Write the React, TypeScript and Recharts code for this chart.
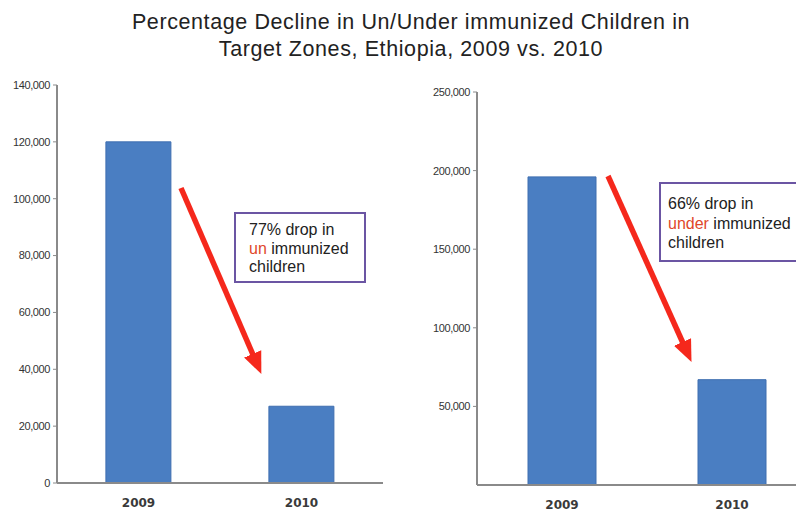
import React from 'react';
import { BarChart, Bar, XAxis, YAxis } from 'recharts';

const years = ['2009', '2010'];
const unImmunized = [120000, 27000];
const underImmunized = [196000, 67000];
const leftTicks = [0, 20000, 40000, 60000, 80000, 100000, 120000, 140000];
const rightTicks = [50000, 100000, 150000, 200000, 250000];

const titleLines = [
  'Percentage Decline in Un/Under immunized Children in',
  'Target Zones, Ethiopia, 2009 vs. 2010',
];

const leftData = years.map((y, i) => ({ year: y, value: unImmunized[i] }));
const rightData = years.map((y, i) => ({ year: y, value: underImmunized[i] }));

const fmt = (v: number) => v.toLocaleString('en-US');

const BAR = '#4a7ec2';
const AXIS = '#8a8a8a';
const yTick = { fontFamily: 'Liberation Sans, Arial, sans-serif', fontSize: 11, fill: '#333', letterSpacing: -0.4 };
const xTick = { fontFamily: 'DejaVu Sans, sans-serif', fontSize: 12, fontWeight: 'bold', fill: '#3a3a3a' };

export default function App() {
  return (
    <div style={{ position: 'fixed', left: 0, top: 0, width: 796, height: 512, overflow: 'hidden', background: '#fff' }}>
      <div style={{ position: 'absolute', left: 0, top: 9, width: 822, textAlign: 'center', fontFamily: 'Liberation Sans, Arial, sans-serif', fontSize: 21.5, letterSpacing: 0.6, lineHeight: '27px', color: '#222' }}>
        {titleLines.map((t) => (<div key={t}>{t}</div>))}
      </div>

      <div style={{ position: 'absolute', left: 0, top: 0 }}>
        <BarChart width={400} height={512} data={leftData} margin={{ top: 85, right: 17, left: 0, bottom: 0 }} barCategoryGap="30%">
          <XAxis dataKey="year" height={29} axisLine={{ stroke: AXIS, strokeWidth: 2 }} tickLine={false} tick={xTick} tickMargin={9} />
          <YAxis width={57} domain={[0, 140000]} ticks={leftTicks} tickFormatter={fmt} axisLine={{ stroke: AXIS, strokeWidth: 2 }} tickLine={{ stroke: AXIS }} tickSize={4} tickMargin={3} tick={yTick} interval={0} />
          <Bar dataKey="value" fill={BAR} stroke="#3f6fb0" isAnimationActive={false} />
        </BarChart>
      </div>

      <div style={{ position: 'absolute', left: 400, top: 0 }}>
        <BarChart width={420} height={512} data={rightData} margin={{ top: 92, right: 3, left: 0, bottom: 0 }} barCategoryGap="30%">
          <XAxis dataKey="year" height={27} axisLine={{ stroke: AXIS, strokeWidth: 2 }} tickLine={false} tick={xTick} tickMargin={9} />
          <YAxis width={77} domain={[0, 250000]} ticks={rightTicks} tickFormatter={fmt} axisLine={{ stroke: AXIS, strokeWidth: 2 }} tickLine={{ stroke: AXIS }} tickSize={4} tickMargin={3} tick={yTick} interval={0} />
          <Bar dataKey="value" fill={BAR} stroke="#3f6fb0" isAnimationActive={false} />
        </BarChart>
      </div>

      <svg width={796} height={512} style={{ position: 'absolute', left: 0, top: 0, pointerEvents: 'none' }}>
        <defs>
          <marker id="ah" markerWidth="4" markerHeight="4" refX="2" refY="2" orient="auto" markerUnits="strokeWidth">
            <path d="M0,0.3 L4,2 L0,3.7 Z" fill="#f5281c" />
          </marker>
        </defs>
        <line x1={181} y1={188} x2={257} y2={364} stroke="#f5281c" strokeWidth={5.5} markerEnd="url(#ah)" />
        <line x1={608} y1={176} x2={687} y2={352} stroke="#f5281c" strokeWidth={5.5} markerEnd="url(#ah)" />
      </svg>

      <div style={{ position: 'absolute', left: 234, top: 212, width: 128, height: 67, border: '2px solid #6b55a3', background: '#fff', fontFamily: 'Liberation Sans, Arial, sans-serif', fontSize: 16, lineHeight: '18.5px', color: '#222' }}>
        <div style={{ paddingLeft: 13, paddingTop: 7 }}>
          <div>77% drop in</div>
          <div><span style={{ color: '#e0472a' }}>un</span> immunized</div>
          <div>children</div>
        </div>
      </div>

      <div style={{ position: 'absolute', left: 659, top: 182, width: 160, height: 76, border: '2px solid #6b55a3', background: '#fff', fontFamily: 'Liberation Sans, Arial, sans-serif', fontSize: 16, lineHeight: '19.5px', color: '#222' }}>
        <div style={{ paddingLeft: 7, paddingTop: 10 }}>
          <div>66% drop in</div>
          <div><span style={{ color: '#e0472a' }}>under</span> immunized</div>
          <div>children</div>
        </div>
      </div>
    </div>
  );
}
